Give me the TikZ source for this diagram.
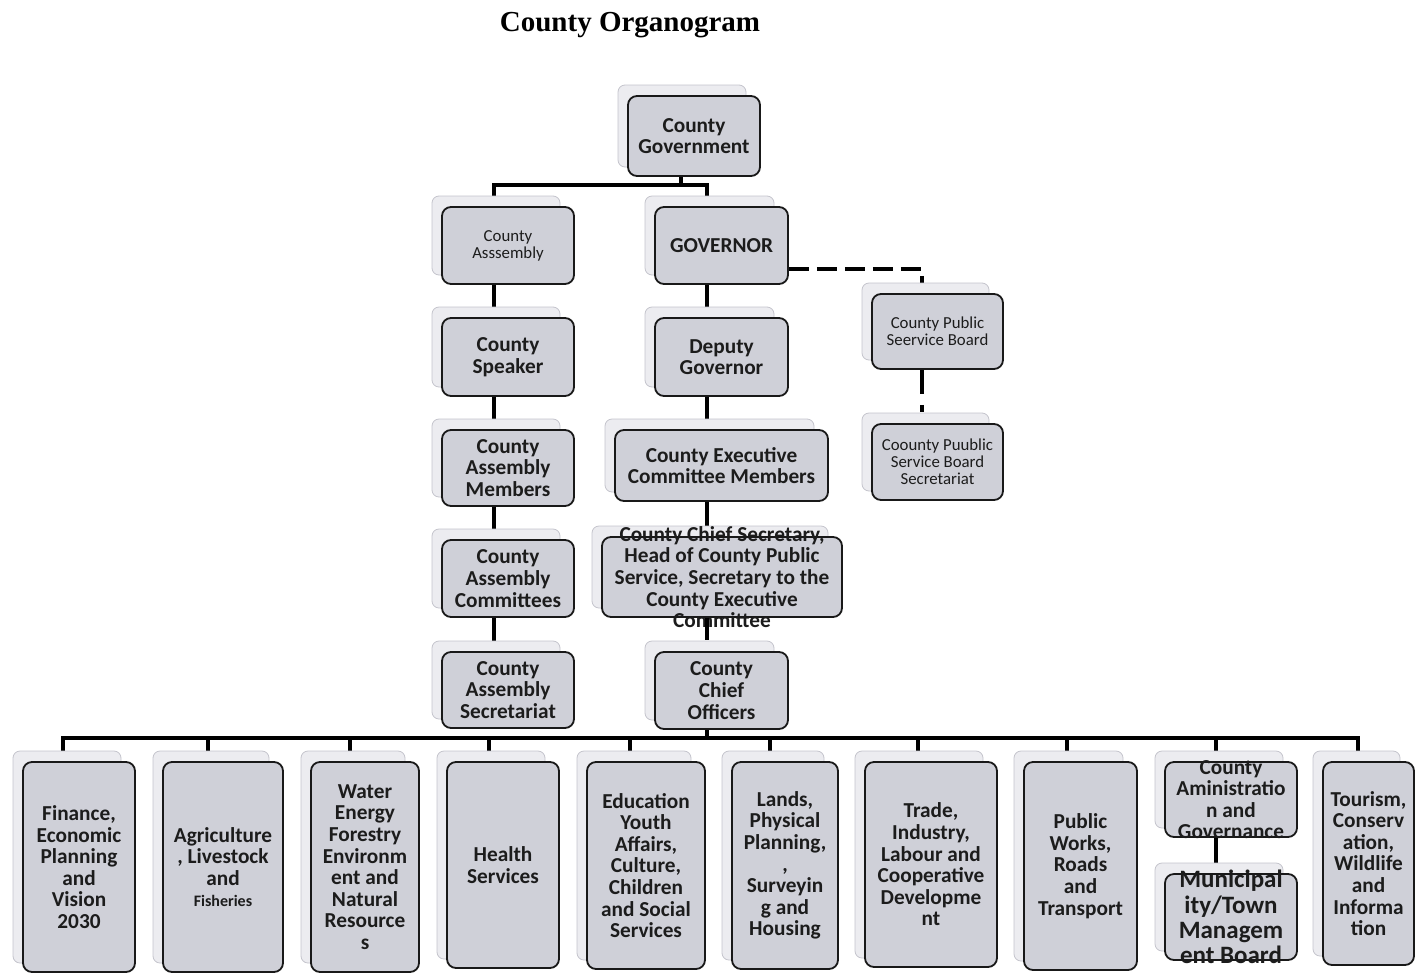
\documentclass[tikz,border=0pt]{standalone}
\usepackage{fontspec}
\setmainfont{Liberation Serif}
\newfontfamily\cf{Carlito}
\usetikzlibrary{calc}
\pgfdeclarelayer{bg}
\pgfdeclarelayer{paper}
\pgfsetlayers{paper,bg,main}
\definecolor{boxfill}{RGB}{207,208,216}
\definecolor{shfill}{RGB}{236,236,240}
\definecolor{shdraw}{RGB}{196,196,204}
\definecolor{txtc}{RGB}{28,28,28}
\tikzset{
  conn/.style={line width=4pt, line cap=rect, black},
  dconn/.style={line width=4pt, black, dash pattern=on 20pt off 8pt},
  orgbox/.style={draw=black!90, line width=1.8pt, fill=boxfill, rounded corners=9pt, inner sep=0pt},
  shadowbox/.style={draw=shdraw, line width=0.8pt, fill=shfill, rounded corners=7pt},
  bt/.style={align=center, inner sep=0pt, text=txtc, font=\cf\bfseries\fontsize{21.3}{21.6}\selectfont},
  st/.style={align=center, inner sep=0pt, text=txtc, font=\cf\fontsize{16.8}{16.8}\selectfont},
  mt/.style={align=center, inner sep=0pt, text=txtc, font=\cf\bfseries\fontsize{25}{25.2}\selectfont},
}
\newcommand\obox[7]{%
  \path[shadowbox] (#2-10,#3-11) rectangle (#4-14,#5-9);
  \node[orgbox, minimum width={#4-#2}, minimum height={#5-#3}] (#1) at ({(#2+#4)/2},{(#3+#5)/2}) {};
  \node[#6] (#1-t) at (#1.center) {#7};
}
\newcommand\dropline[2]{%
  \coordinate (#1-d) at ($(#1.north)+(#2,0)$);
  \draw[conn] (#1-d) -- (#1-d |- bus);
}
\begin{document}
\begin{tikzpicture}[x=1pt,y=-1pt]
\useasboundingbox (0,0) rectangle (1416,975);
\begin{pgfonlayer}{paper}
\fill[white] (0,0) rectangle (1416,975);
\end{pgfonlayer}
\node[font=\bfseries\fontsize{29}{32}\selectfont] (title) at (630,25) {County Organogram};

\obox{cg}{628}{96}{760}{176}{bt}{County\\Government}
\obox{ca}{442}{207}{574}{284}{st}{County\\Asssembly}
\obox{gov}{655}{207}{788}{284}{bt}{GOVERNOR}
\obox{sp}{442}{318}{574}{396}{bt}{County\\Speaker}
\obox{dg}{655}{318}{788}{396}{bt}{Deputy\\Governor}
\obox{psb}{872}{294}{1003}{369}{st}{County Public\\Seervice Board}
\obox{psbs}{872}{424}{1003}{500}{st}{Coounty Puublic\\Service Board\\Secretariat}
\obox{cam}{442}{430}{574}{506}{bt}{County\\Assembly\\Members}
\obox{cec}{615}{430}{828}{501}{bt}{County Executive\\Committee Members}
\obox{cac}{442}{540}{574}{617}{bt}{County\\Assembly\\Committees}
\obox{ccs}{602}{537}{842}{617}{bt}{County Chief Secretary,\\Head of County Public\\Service, Secretary to the\\County Executive\\Committee}
\obox{cas}{442}{652}{574}{728}{bt}{County\\Assembly\\Secretariat}
\obox{cco}{655}{652}{788}{729}{bt}{County\\Chief\\Officers}

\obox{fin}{23}{762}{135}{972}{bt}{Finance,\\Economic\\Planning\\and\\Vision\\2030}
\obox{agr}{163}{762}{283}{972}{bt}{Agriculture\\, Livestock\\and\\{\fontsize{16}{21.6}\selectfont Fisheries}}
\obox{wat}{311}{762}{419}{972}{bt}{Water\\Energy\\Forestry\\Environm\\ent and\\Natural\\Resource\\s}
\obox{hea}{447}{762}{559}{968}{bt}{Health\\Services}
\obox{edu}{587}{762}{705}{969}{bt}{Education\\Youth\\Affairs,\\Culture,\\Children\\and Social\\Services}
\obox{lan}{732}{762}{838}{969}{bt}{Lands,\\Physical\\Planning,\\,\\Surveyin\\g and\\Housing}
\obox{tra}{865}{762}{997}{967}{bt}{Trade,\\Industry,\\Labour and\\Cooperative\\Developme\\nt}
\obox{pub}{1024}{762}{1137}{970}{bt}{Public\\Works,\\Roads\\and\\Transport}
\obox{adm}{1165}{762}{1297}{837}{bt}{County\\Aministratio\\n and\\Governance}
\obox{mun}{1165}{874}{1297}{960}{mt}{Municipal\\ity/Town\\Managem\\ent Board}
\obox{tou}{1323}{762}{1414}{965}{bt}{Tourism,\\Conserv\\ation,\\Wildlife\\and\\Informa\\tion}

\begin{pgfonlayer}{bg}
  \coordinate (tb) at (681,185);
  \coordinate (ax) at (494,0);
  \coordinate (gx) at (707,0);
  \coordinate (bus) at (0,738);
  \draw[conn] (cg.south -| tb) -- (tb);
  \draw[conn] (ca.north -| ax) |- (tb) -| (gov.north -| gx);
  \draw[conn] (ca.south -| ax) -- (sp.north -| ax);
  \draw[conn] (sp.south -| ax) -- (cam.north -| ax);
  \draw[conn] (cam.south -| ax) -- (cac.north -| ax);
  \draw[conn] (cac.south -| ax) -- (cas.north -| ax);
  \draw[conn] (gov.south -| gx) -- (dg.north -| gx);
  \draw[conn] (dg.south -| gx) -- (cec.north -| gx);
  \draw[conn] (cec.south -| gx) -- (ccs.north -| gx);
  \draw[conn] (cco.south -| gx) -- (bus -| gx);
  \draw[dconn] ($(gov.east)+(0,23.5)$) -| ($(psb.north)+(-15.5,0)$);
  \draw[line width=4pt, dash pattern=on 24pt off 11pt on 7pt off 30pt] ($(psb.south)+(-15.5,0)$) -- ($(psbs.north)+(-15.5,0)$);
  \draw[conn] ($(adm.south)+(-15,0)$) -- ($(mun.north)+(-15,0)$);
  \dropline{fin}{-16}
  \dropline{agr}{-15}
  \dropline{wat}{-15}
  \dropline{hea}{-14}
  \dropline{edu}{-16}
  \dropline{lan}{-15}
  \dropline{tra}{-13}
  \dropline{pub}{-13.5}
  \dropline{adm}{-15}
  \dropline{tou}{-10.5}
  \draw[conn] (fin-d |- bus) -- (tou-d |- bus);
\end{pgfonlayer}
\draw[line width=4pt] (ccs.south -| gx) -- ($(cco.north -| gx)+(0,-11)$);
\end{tikzpicture}
\end{document}
